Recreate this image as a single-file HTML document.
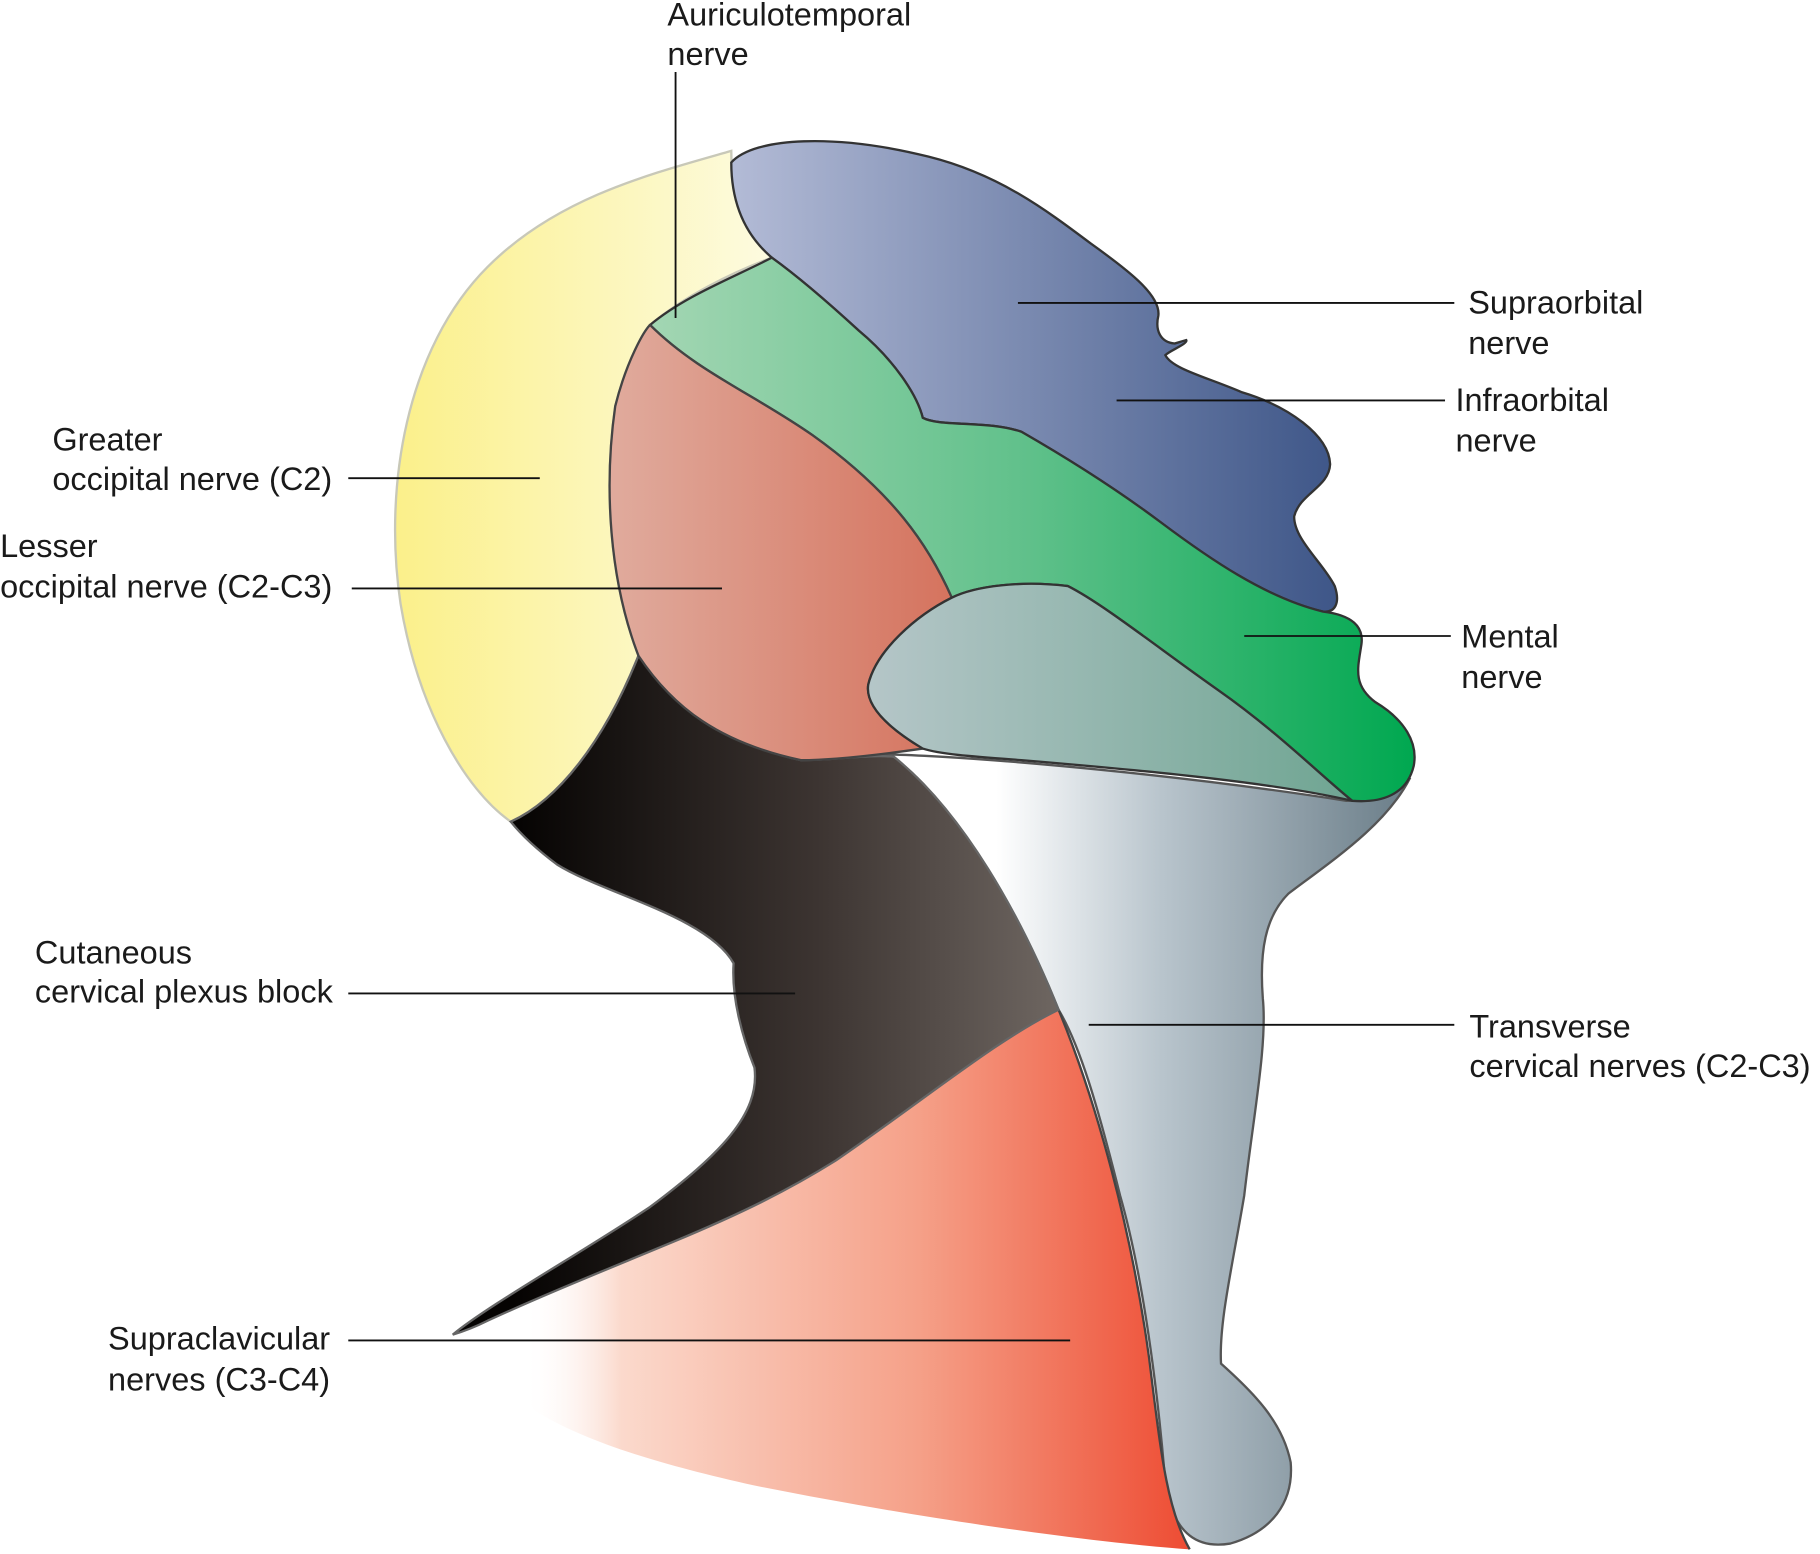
<!DOCTYPE html>
<html><head><style>
html,body{margin:0;padding:0;background:#fff;}
svg{display:block;}
text{font-family:"Liberation Sans",sans-serif;font-size:28px;fill:#1a1a1a;}
</style></head><body>
<svg width="1820" height="1554" viewBox="0 0 1568 1339" xmlns="http://www.w3.org/2000/svg">
<defs>
<linearGradient id="gy" x1="0" x2="1"><stop offset="0" stop-color="#fbf08a"/><stop offset="1" stop-color="#fdfbe0"/></linearGradient>
<linearGradient id="gb" x1="0" x2="1"><stop offset="0" stop-color="#b3bbd6"/><stop offset="1" stop-color="#3e5688"/></linearGradient>
<linearGradient id="gg" x1="0" x2="1"><stop offset="0" stop-color="#a3d6b3"/><stop offset="0.5" stop-color="#5fc08a"/><stop offset="1" stop-color="#00a850"/></linearGradient>
<linearGradient id="gs" x1="0" x2="1"><stop offset="0" stop-color="#e0ab9d"/><stop offset="1" stop-color="#d5735e"/></linearGradient>
<linearGradient id="gt" x1="0" x2="1"><stop offset="0" stop-color="#b5c6c8"/><stop offset="1" stop-color="#6fa592"/></linearGradient>
<linearGradient id="gn" x1="740" x2="1215" gradientUnits="userSpaceOnUse"><stop offset="0.25" stop-color="#ffffff"/><stop offset="0.55" stop-color="#b8c4cc"/><stop offset="1" stop-color="#6a7d88"/></linearGradient>
<linearGradient id="gk" x1="390" x2="912" gradientUnits="userSpaceOnUse"><stop offset="0.1" stop-color="#050302"/><stop offset="0.6" stop-color="#3c3431"/><stop offset="1" stop-color="#6e6661"/></linearGradient>
<linearGradient id="gr" x1="450" x2="1020" gradientUnits="userSpaceOnUse"><stop offset="0" stop-color="#fff" stop-opacity="0"/><stop offset="0.15" stop-color="#fbd9cc"/><stop offset="0.6" stop-color="#f5a088"/><stop offset="1" stop-color="#ee4e35"/></linearGradient>
</defs>
<path d="M630,130 C560,150 480,170 420,230 C350,300 330,420 345,520 C360,610 400,680 440,708 C480,690 520,640 550,565 C525,500 520,420 530,350 C540,310 555,285 560,280 C590,255 630,235 665,222 C645,200 630,175 630,130 Z" fill="url(#gy)" stroke="#c8c8b8" stroke-width="2"/>
<path d="M740,650 C800,648 1000,665 1160,690 C1190,690 1210,680 1215,670 C1195,710 1150,740 1110,770 C1090,790 1085,820 1088,860 C1092,900 1080,960 1072,1030 C1062,1090 1050,1140 1052,1175 C1080,1200 1105,1225 1112,1260 C1115,1295 1095,1320 1060,1330 C1030,1335 1015,1320 1005,1290 C998,1200 985,1100 965,1030 C945,950 930,900 912,870 C880,790 830,710 790,670 C775,658 755,652 740,650 Z" fill="url(#gn)" stroke="#555" stroke-width="2"/>
<path d="M912,870 C945,950 975,1060 990,1170 C1000,1250 1005,1300 1025,1335 C950,1330 800,1310 650,1280 C560,1260 500,1240 460,1215 L420,1138 C470,1115 520,1095 580,1070 C640,1045 680,1025 720,1000 C800,945 860,895 912,870 Z" fill="url(#gr)" stroke="none"/>
<path d="M912,870 C945,950 975,1060 990,1170 C1000,1250 1005,1300 1025,1335" fill="none" stroke="#444" stroke-width="2"/>
<path d="M440,708 C480,690 520,640 550,565 C580,600 620,640 690,655 C720,655 745,650 770,652 C830,700 880,790 912,870 C860,895 800,945 720,1000 C680,1025 640,1045 580,1070 C520,1095 470,1115 420,1138 C410,1143 400,1147 390,1150 C420,1125 500,1080 560,1040 C620,995 655,960 650,920 C640,895 630,860 632,830 C610,790 520,770 480,745 C460,730 448,718 440,708 Z" fill="url(#gk)" stroke="#666" stroke-width="2"/>
<path d="M630,140 C650,118 720,115 800,135 C860,150 900,180 940,210 C975,235 1000,255 998,272 C995,285 1000,295 1012,296 L1022,293 C1024,296 1008,302 1004,306 C1010,318 1040,325 1070,338 C1110,350 1145,375 1146,400 C1145,420 1120,425 1115,445 C1115,465 1140,485 1150,505 C1155,520 1150,528 1140,527 C1090,515 1040,480 1000,450 C960,420 920,395 880,372 C850,362 810,368 795,360 C790,340 770,310 740,285 C715,262 690,240 665,222 C645,205 630,180 630,140 Z" fill="url(#gb)" stroke="#333" stroke-width="2"/>
<path d="M560,280 C590,255 630,240 665,222 C690,240 715,262 740,285 C770,310 790,340 795,360 C810,368 850,362 880,372 C920,395 960,420 1000,450 C1040,480 1090,515 1140,527 C1165,530 1175,540 1173,555 C1170,575 1165,590 1185,605 C1210,620 1222,640 1218,660 C1212,685 1190,692 1165,690 C1140,670 1100,630 1050,595 C1000,560 950,520 920,505 C880,500 840,505 820,515 C800,470 770,425 700,375 C650,340 600,320 560,280 Z" fill="url(#gg)" stroke="#333" stroke-width="2"/>
<path d="M560,280 C600,320 650,340 700,375 C770,425 800,470 820,515 C790,530 755,560 748,590 C745,610 770,630 795,645 C760,650 720,655 690,655 C620,640 580,610 550,565 C525,500 520,420 530,350 C540,310 555,285 560,280 Z" fill="url(#gs)" stroke="#444" stroke-width="2"/>
<path d="M820,515 C840,505 880,500 920,505 C950,520 1000,560 1050,595 C1100,630 1140,670 1165,690 C1100,675 1000,665 880,655 C840,652 810,650 795,645 C770,630 745,610 748,590 C755,560 790,530 820,515 Z" fill="url(#gt)" stroke="#333" stroke-width="2"/>
<g stroke="#111" stroke-width="1.6">
<line x1="582" y1="62" x2="582" y2="274"/>
<line x1="877" y1="261" x2="1253" y2="261"/>
<line x1="962" y1="345" x2="1245" y2="345"/>
<line x1="1072" y1="548" x2="1250" y2="548"/>
<line x1="300" y1="412" x2="465" y2="412"/>
<line x1="303" y1="507" x2="622" y2="507"/>
<line x1="300" y1="856" x2="685" y2="856"/>
<line x1="938" y1="883" x2="1253" y2="883"/>
<line x1="300" y1="1155" x2="922" y2="1155"/>
</g>
<text x="575" y="22">Auriculotemporal</text><text x="575" y="56">nerve</text>
<text x="1265" y="270">Supraorbital</text><text x="1265" y="305">nerve</text>
<text x="1254" y="354">Infraorbital</text><text x="1254" y="389">nerve</text>
<text x="1259" y="558">Mental</text><text x="1259" y="593">nerve</text>
<text x="45" y="388">Greater</text><text x="45" y="422">occipital nerve (C2)</text>
<text x="0" y="480">Lesser</text><text x="0" y="515">occipital nerve (C2-C3)</text>
<text x="30" y="830">Cutaneous</text><text x="30" y="864">cervical plexus block</text>
<text x="1266" y="894">Transverse</text><text x="1266" y="928">cervical nerves (C2-C3)</text>
<text x="93" y="1163">Supraclavicular</text><text x="93" y="1198">nerves (C3-C4)</text>
</svg>
</body></html>
